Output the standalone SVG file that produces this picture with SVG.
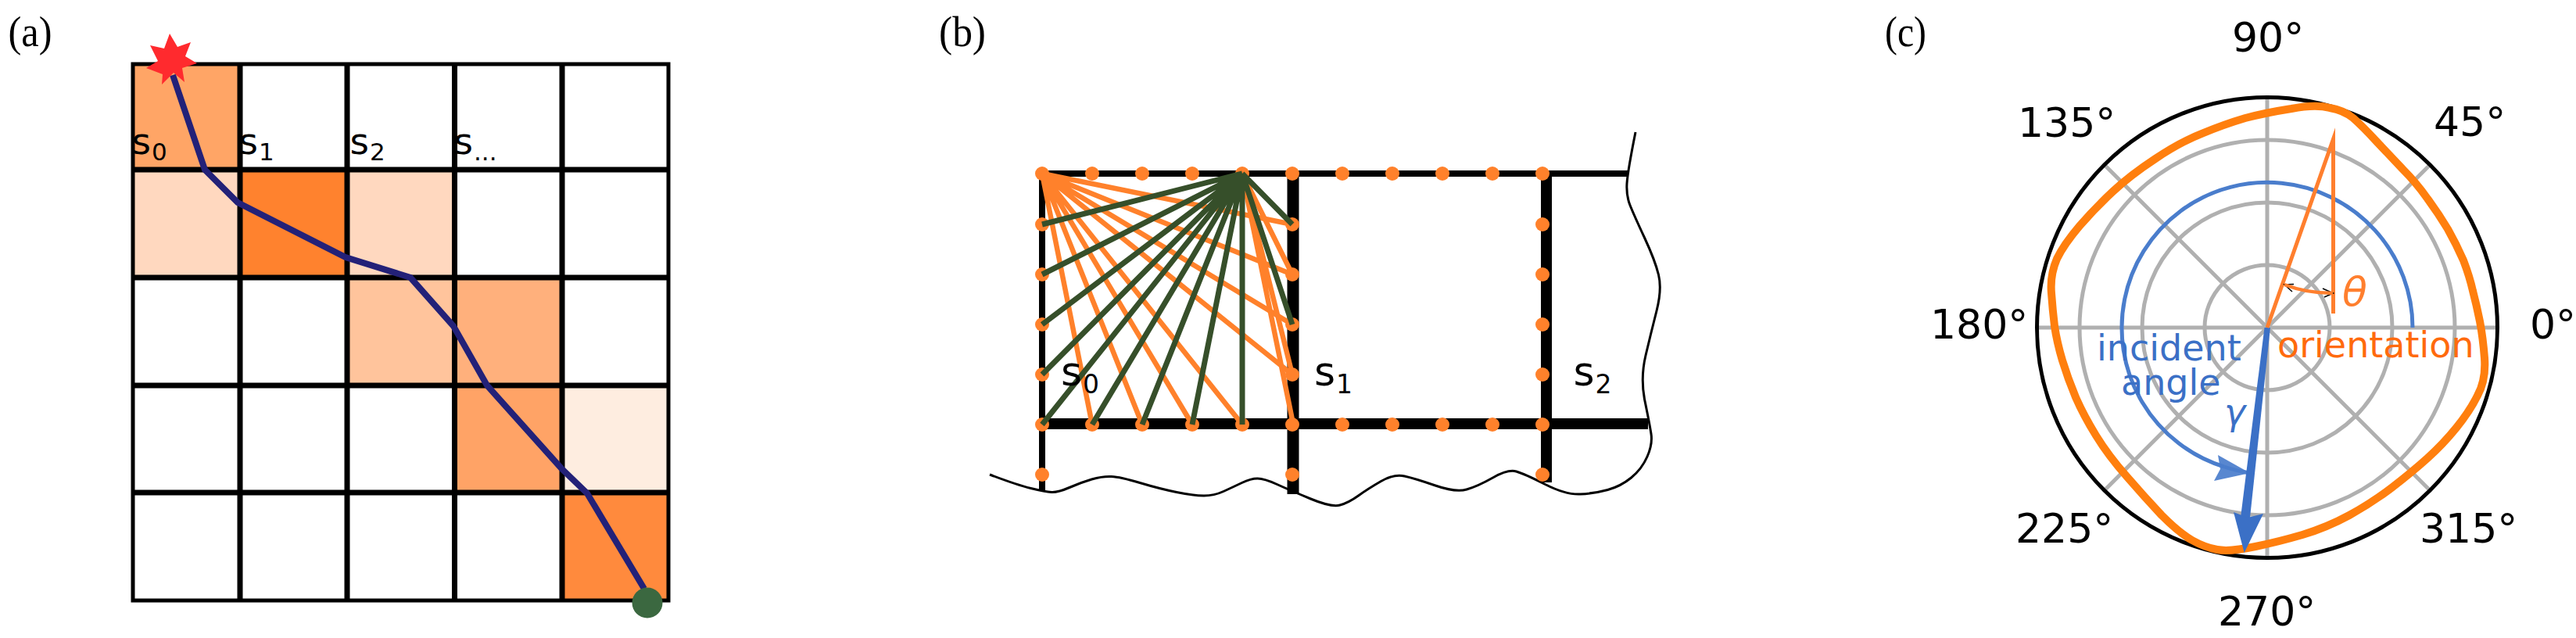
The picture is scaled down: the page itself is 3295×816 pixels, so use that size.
<svg xmlns="http://www.w3.org/2000/svg" width="3295" height="816" viewBox="0 0 3295 816">
<style>
text{font-family:"DejaVu Sans",sans-serif}
.p{font-family:"Liberation Serif",serif;font-size:54px;fill:#000}
.s{font-size:47px;fill:#000}
.s2{font-size:52px;fill:#000}
.t{font-size:52px;fill:#000}
.g{stroke:#000;fill:none}
.o{stroke:#FF812B;stroke-width:6.500;fill:none}
.d{stroke:#364F2A;stroke-width:7;fill:none}
.dot{fill:#FF812B}
.grid{stroke:#B0B0B0;stroke-width:5;fill:none}
.bl{fill:#3B70C6}
</style>
<rect width="3295" height="816" fill="#fff"/>
<text class="p" x="10.500" y="59" textLength="56" lengthAdjust="spacingAndGlyphs">(a)</text>
<text class="p" x="1201" y="59" textLength="60" lengthAdjust="spacingAndGlyphs">(b)</text>
<text class="p" x="2411" y="59" textLength="53" lengthAdjust="spacingAndGlyphs">(c)</text>
<g id="panel-a">
<g id="cells">
<rect x="170" y="82" width="137" height="135" fill="#FFA566"/>
<rect x="170" y="217" width="137" height="138" fill="#FFD8BF"/>
<rect x="307" y="217" width="137" height="138" fill="#FF822E"/>
<rect x="444" y="217" width="137" height="138" fill="#FFD8BF"/>
<rect x="444" y="355" width="137" height="138" fill="#FFC49C"/>
<rect x="581" y="355" width="138" height="138" fill="#FFB07C"/>
<rect x="581" y="493" width="138" height="137" fill="#FFA366"/>
<rect x="719" y="493" width="136" height="137" fill="#FEEDE0"/>
<rect x="719" y="630" width="136" height="138" fill="#FF8A3D"/>
</g>
<g id="grid" class="g" stroke-width="7">
<path d="M307 82V768M444 82V768M581.500 82V768M719 82V768M170 217H855M170 355H855M170 493H855M170 630H855"/>
<rect x="170" y="82" width="685" height="686" stroke-width="5"/>
</g>
<g id="state-labels">
<text class="s" x="168.500" y="197">s<tspan font-size="31" dx="1" dy="8">0</tspan></text>
<text class="s" x="305.500" y="197">s<tspan font-size="31" dx="1" dy="8">1</tspan></text>
<text class="s" x="447.500" y="197">s<tspan font-size="31" dx="1" dy="8">2</tspan></text>
<text class="s" x="580.500" y="197">s<tspan font-size="31" dx="1" dy="8">...</tspan></text>
</g>
<g id="trajectory"><polyline points="221,96 262,217 304,259 442,329 525,355 580,417 623,493 718,599 751,631 824,753" fill="none" stroke="#232178" stroke-width="8"/></g>
<g id="start"><polygon fill="#FF2A2E" points="217,43 227,60 244,54 237,72 252,81 233,87 236,105 222,93 207,108 208,95 187,87 202,78 192,58 210,62"/></g>
<g id="goal"><circle cx="828" cy="771" r="19.500" fill="#3B6840"/></g>
</g>
<g id="panel-b">
<g id="walls" class="g">
<path d="M1333 222H2082" stroke-width="8"/>
<path d="M1333 222V628" stroke-width="8"/>
<path d="M1654 222V632" stroke-width="15"/>
<path d="M1978 222V617" stroke-width="14"/>
<path d="M1333 542H2108" stroke-width="14"/>
</g>
<g id="boundary"><path fill="none" stroke="#000" stroke-width="3" d="M1266 607Q1300 620 1318.500 624.500Q1337 629 1345 629.500Q1353 630 1368 623.500Q1383 617 1396.500 613Q1410 609 1421.500 609.500Q1433 610 1458 617.500Q1483 625 1505 629.500Q1527 634 1540 634Q1553 634 1565 628.500Q1577 623 1588.500 617.500Q1600 612 1608.500 612Q1617 612 1633.500 619.500Q1650 627 1676.500 638Q1703 649 1714 646Q1725 643 1737.500 634Q1750 625 1766.500 615.500Q1783 606 1796.500 609Q1810 612 1836 621Q1862 630 1876 626Q1890 622 1909.500 611Q1929 600 1939.500 603Q1950 606 1976.500 619.500Q2003 633 2021.500 632Q2040 631 2056.500 626.500Q2073 622 2086.500 611Q2100 600 2107 584Q2114 568 2112 555Q2110 542 2104 513Q2098 484 2105 454.500Q2112 425 2119 397.500Q2126 370 2121.500 351.500Q2117 333 2103.500 304Q2090 275 2085 262.500Q2080 250 2081 234.500Q2082 219 2092 169"/></g>
<g id="sample-points" class="dot">
<circle cx="1333" cy="222" r="9"/><circle cx="1397" cy="222" r="9"/><circle cx="1461" cy="222" r="9"/><circle cx="1525" cy="222" r="9"/><circle cx="1589" cy="222" r="9"/><circle cx="1653" cy="222" r="9"/><circle cx="1717" cy="222" r="9"/><circle cx="1781" cy="222" r="9"/><circle cx="1845" cy="222" r="9"/><circle cx="1909" cy="222" r="9"/><circle cx="1973" cy="222" r="9"/>
<circle cx="1333" cy="287" r="9"/><circle cx="1333" cy="351" r="9"/><circle cx="1333" cy="415" r="9"/><circle cx="1333" cy="479" r="9"/><circle cx="1333" cy="543" r="9"/><circle cx="1333" cy="607" r="9"/>
<circle cx="1653" cy="287" r="9"/><circle cx="1653" cy="351" r="9"/><circle cx="1653" cy="415" r="9"/><circle cx="1653" cy="479" r="9"/><circle cx="1653" cy="543" r="9"/><circle cx="1653" cy="607" r="9"/>
<circle cx="1973" cy="287" r="9"/><circle cx="1973" cy="351" r="9"/><circle cx="1973" cy="415" r="9"/><circle cx="1973" cy="479" r="9"/><circle cx="1973" cy="543" r="9"/><circle cx="1973" cy="607" r="9"/>
<circle cx="1397" cy="543" r="9"/><circle cx="1461" cy="543" r="9"/><circle cx="1525" cy="543" r="9"/><circle cx="1589" cy="543" r="9"/><circle cx="1717" cy="543" r="9"/><circle cx="1781" cy="543" r="9"/><circle cx="1845" cy="543" r="9"/><circle cx="1909" cy="543" r="9"/>
</g>
<g id="connectors">
<g class="o">
<path d="M1333 222L1397 543M1333 222L1461 543M1333 222L1525 543M1333 222L1589 543M1333 222L1653 479M1333 222L1653 415M1333 222L1653 351M1333 222L1653 287"/>
<path d="M1589 222L1653 351M1589 222L1653 479M1589 222L1653 537"/>
</g>
<g class="d">
<path d="M1589 222L1333 287M1589 222L1333 351M1589 222L1333 415M1589 222L1333 479M1589 222L1333 543M1589 222L1397 543M1589 222L1461 543M1589 222L1525 543M1589 222L1589 543M1589 222L1653 287M1589 222L1653 415"/>
</g>
</g>
<g id="b-labels">
<text class="s2" x="1357" y="493">s<tspan font-size="33" dx="1" dy="10">0</tspan></text>
<text class="s2" x="1681" y="493">s<tspan font-size="33" dx="1" dy="10">1</tspan></text>
<text class="s2" x="2012.500" y="493">s<tspan font-size="33" dx="1" dy="10">2</tspan></text>
</g>
</g>
<g id="panel-c">
<g id="polar-grid" class="grid">
<circle cx="2900" cy="419" r="80"/><circle cx="2900" cy="419" r="160"/><circle cx="2900" cy="419" r="240"/>
<path d="M2606 419H3194M2900 125V713M2692 211L3108 627M2692 627L3108 211"/>
</g>
<circle id="frame" cx="2900" cy="419" r="294.500" fill="none" stroke="#000" stroke-width="5"/>
<path id="orientation-curve" fill="none" stroke="#FF7F0E" stroke-width="10" d="M2931 139Q2962 133 2980 138Q2998 141 3010 151Q3022 161.500 3039 180Q3056 198 3073 216Q3091 234 3105 254Q3119 273 3131 293Q3142 312.500 3151 333Q3159 354 3163 372Q3168 391 3172 411Q3176 432 3178 458Q3180 486 3169 506Q3159 526 3142 547Q3125 568 3105 586Q3085 604 3059 624Q3034 643 3005 659Q2976.500 674.500 2945 684Q2914 693 2885 699Q2852 706 2836 703Q2820 700 2804 691Q2788 682 2765 659Q2742.500 635 2720 609Q2697 583 2681 557Q2665 531 2655 508Q2645 484 2638 461Q2631 437.500 2628 417Q2625.500 396 2624 375Q2622 352 2631 331Q2640 312.500 2660 289Q2680 266 2702.500 245Q2725 224 2757 203Q2788 182 2817 170.600Q2845 159 2872 151Q2899 144 2931 139Z"/>
<g id="incident-arc">
<path fill="none" stroke="#4A7DCC" stroke-width="5" d="M3086 419A186 186 0 1 0 2845 597"/>
<path fill="none" stroke="#4A7DCC" stroke-width="5" d="M2845 597Q2860 602 2878 605"/>
<polygon fill="#4A7DCC" fill-opacity=".92" points="2878,605 2837,582 2840,600 2832,615"/>
</g>
<g id="incident-arrow">
<polygon class="bl" points="2896.500,419 2904,419 2878,662 2866,662"/>
<polygon class="bl" points="2870.700,707 2857,655 2875,662 2895,657"/>
</g>
<g id="theta">
<path d="M2900 419L2984.500 178V401" fill="none" stroke="#FF7F2E" stroke-width="5" stroke-miterlimit="30"/>
<path d="M2934 363.500L2922 364L2932 373M2971 369L2984.500 375L2973 380" fill="none" stroke="#000" stroke-width="1.500"/>
<path d="M2922 364Q2950 375 2984 375" fill="none" stroke="#FF7F2E" stroke-width="4.500"/>
</g>
<g id="tick-labels">
<text class="t" x="2855" y="66">90°</text>
<text class="t" x="3113" y="174">45°</text>
<text class="t" x="2581" y="175">135°</text>
<text class="t" x="2469" y="433">180°</text>
<text class="t" x="3236" y="433">0°</text>
<text class="t" x="2578" y="694">225°</text>
<text class="t" x="3095" y="694">315°</text>
<text class="t" x="2837" y="800">270°</text>
</g>
<g id="c-labels">
<text x="2682" y="461" font-size="46" fill="#3B70C6">incident</text>
<text x="2713" y="505" font-size="46" fill="#3B70C6">angle</text>
<text x="2845" y="543" font-size="46" font-style="italic" fill="#3B70C6">γ</text>
<text x="2913" y="457" font-size="46" fill="#FF6A0D">orientation</text>
<text x="2996" y="391" font-size="52" font-style="italic" fill="#FF7F2E">θ</text>
</g>
</g>
</svg>
